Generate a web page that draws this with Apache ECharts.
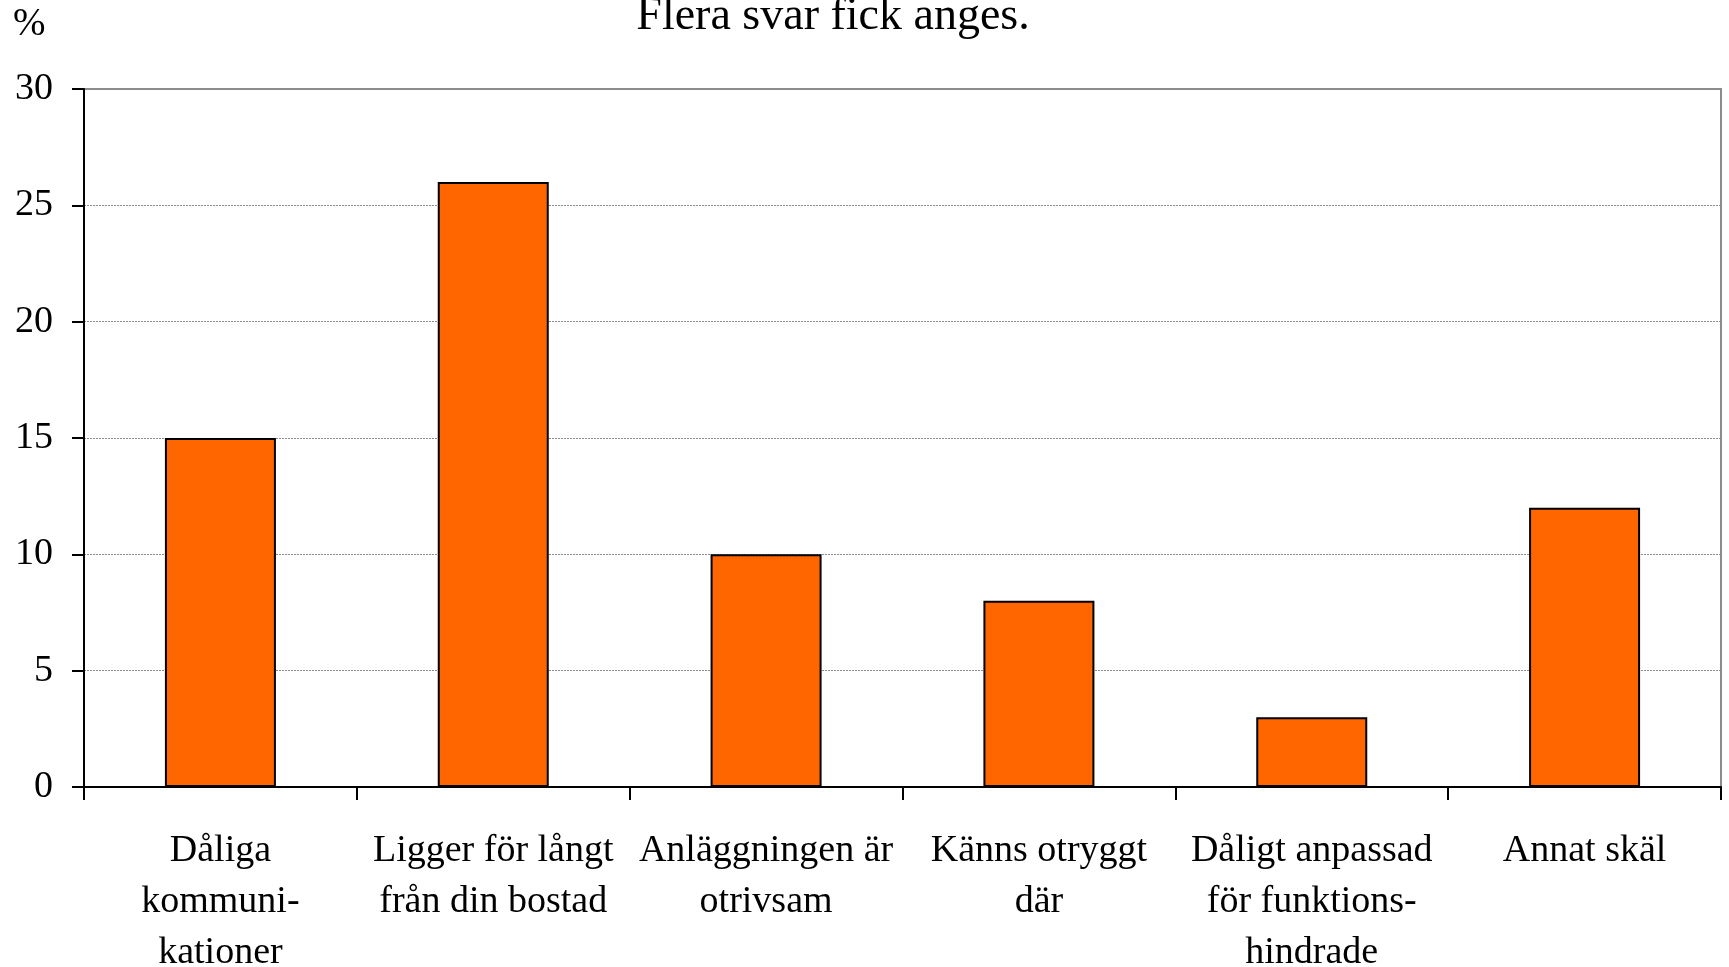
<!DOCTYPE html>
<html lang="sv">
<head>
    <meta charset="utf-8">
    <title>Flera svar fick anges</title>
    <script src="https://cdn.jsdelivr.net/npm/echarts@6/dist/echarts.min.js"></script>
    <style>
        html, body { margin: 0; padding: 0; background: #fff; }
        #chart { width: 1729px; height: 967px; }
    </style>
</head>
<body>
    <div id="chart"></div>
<script type="text/javascript">
    // skäl, andel i procent
    const categories = [
        'Dåliga\nkommuni-\nkationer',
        'Ligger för långt\nfrån din bostad',
        'Anläggningen är\notrivsam',
        'Känns otryggt\ndär',
        'Dåligt anpassad\nför funktions-\nhindrade',
        'Annat skäl'
    ];
    const values = [15, 26, 10, 8, 3, 12];
    const yTicks = [0, 5, 10, 15, 20, 25, 30];

    const serif = '"Liberation Serif", "Times New Roman", serif';

    let myChart = echarts.init(document.getElementById('chart'));
    let option = {
        animation: false,
        backgroundColor: '#fff',
        title: {
            text: 'Flera svar fick anges.',
            left: 828,
            top: -11,
            textAlign: 'center',
            textStyle: { fontFamily: serif, fontSize: 46, fontWeight: 'normal', color: '#000' }
        },
        graphic: [{
            type: 'text',
            left: 13,
            top: 5,
            style: { text: '%', font: '39px ' + serif, fill: '#000' }
        }],
        grid: {
            left: 84, right: 8, top: 89, bottom: 180,
            show: true, borderColor: '#8c8c8c', borderWidth: 2,
            containLabel: false,
            outerBoundsMode: 'none'
        },
        xAxis: {
            type: 'category',
            data: categories,
            axisLine: { lineStyle: { color: '#000', width: 2 } },
            axisTick: { show: true, length: 13, lineStyle: { color: '#000', width: 2 } },
            axisLabel: {
                interval: 0,
                margin: 39,
                fontFamily: serif,
                fontSize: 38,
                lineHeight: 51,
                color: '#000',
                align: 'center'
            }
        },
        yAxis: {
            type: 'value',
            min: yTicks[0],
            max: yTicks[yTicks.length - 1],
            interval: 5,
            axisLine: { show: true, lineStyle: { color: '#000', width: 2 } },
            axisTick: { show: true, length: 12, lineStyle: { color: '#000', width: 2 } },
            axisLabel: { margin: 31, fontFamily: serif, fontSize: 38, color: '#000' },
            splitLine: { show: true, lineStyle: { color: '#8c8c8c', type: [2, 1], width: 1 } }
        },
        series: [{
            type: 'bar',
            data: values,
            barWidth: 111,
            itemStyle: { color: '#FF6600', borderColor: '#000', borderWidth: 2 }
        }]
    };
    myChart.setOption(option);
</script>
</body>
</html>
